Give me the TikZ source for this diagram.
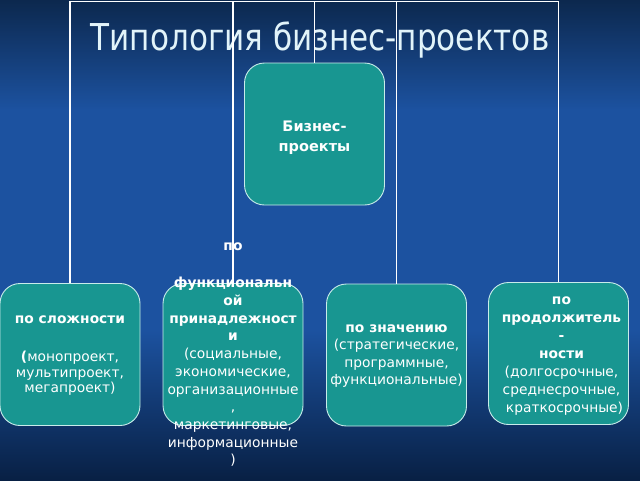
\documentclass[tikz,border=0pt]{standalone}
\usepackage{fontspec}
\setmainfont{DejaVu Sans}
\definecolor{bgtop}{RGB}{12,40,78}
\definecolor{bgmid}{RGB}{28,82,160}
\definecolor{bgbot}{RGB}{8,32,68}
\definecolor{boxteal}{RGB}{24,150,145}
\definecolor{boxedge}{RGB}{200,236,234}
\definecolor{titlecol}{RGB}{226,244,250}
\tikzset{
  box/.style={draw=boxedge, line width=0.9pt, fill=boxteal, rounded corners=20pt,
    inner sep=0pt, minimum width=140pt, minimum height=142pt},
  boxtext/.style={text=white, align=center, inner sep=0pt},
  conn/.style={draw=white, line width=1.4pt},
}
\begin{document}
\begin{tikzpicture}[x=1pt,y=-1pt]
\useasboundingbox (0,0) rectangle (640,480);
\shade[top color=bgtop, bottom color=bgmid] (0,0) rectangle (640,110);
\fill[bgmid] (0,109) rectangle (640,331);
\shade[top color=bgmid, bottom color=bgbot] (0,330) rectangle (640,480);

\node[anchor=base, text=titlecol, font=\fontsize{37}{40}\selectfont, inner sep=0pt] (title) at (320,50)
  {\scalebox{0.84}[1]{Типология бизнес-проектов}};

\coordinate (topline) at (320,1.5);

\node[box] (root) at (314.5,134) {};
\node[box] (b1) at (70,354.5) {};
\node[box] (b2) at (233,354.5) {};
\node[box] (b3) at (396.5,355) {};
\node[box] (b4) at (558.5,353.5) {};

\draw[conn] (root.north) |- (b1.north |- topline) -- (b1.north);
\draw[conn] (root.north) |- (b2.north |- topline) -- (b2.north);
\draw[conn] (root.north) |- (b3.north |- topline) -- (b3.north);
\draw[conn] (root.north) |- (b4.north |- topline) -- (b4.north);

\node[boxtext, font=\bfseries\fontsize{14.5}{20}\selectfont] (tr) at ([yshift=-4pt]root.center) {Бизнес-\\проекты};
\node[boxtext, font=\fontsize{13.8}{15.5}\selectfont] (t1) at ([yshift=-1pt]b1.center)
  {\textbf{по сложности}\\[23pt]\textbf{(}монопроект,\\мультипроект,\\мегапроект)};
\node[boxtext, font=\fontsize{13.8}{17.7}\selectfont] (t2) at (b2.center)
  {\textbf{по}\\[20pt]\textbf{функциональн}\\\textbf{ой}\\\textbf{принадлежност}\\\textbf{и}\\(социальные,\\экономические,\\организационные\\,\\маркетинговые,\\информационные\\)};
\node[boxtext, font=\fontsize{13.8}{17.3}\selectfont] (t3) at ([yshift=-1pt]b3.center)
  {\textbf{по значению}\\(стратегические,\\программные,\\функциональные)};
\node[boxtext, font=\fontsize{13.8}{18}\selectfont] (t4) at ([xshift=3pt,yshift=-2.5pt]b4.center)
  {\textbf{по}\\\textbf{продолжитель}\\\textbf{-}\\\textbf{ности}\\(долгосрочные,\\среднесрочные,\\\hspace*{6pt}краткосрочные)};
\end{tikzpicture}
\end{document}
